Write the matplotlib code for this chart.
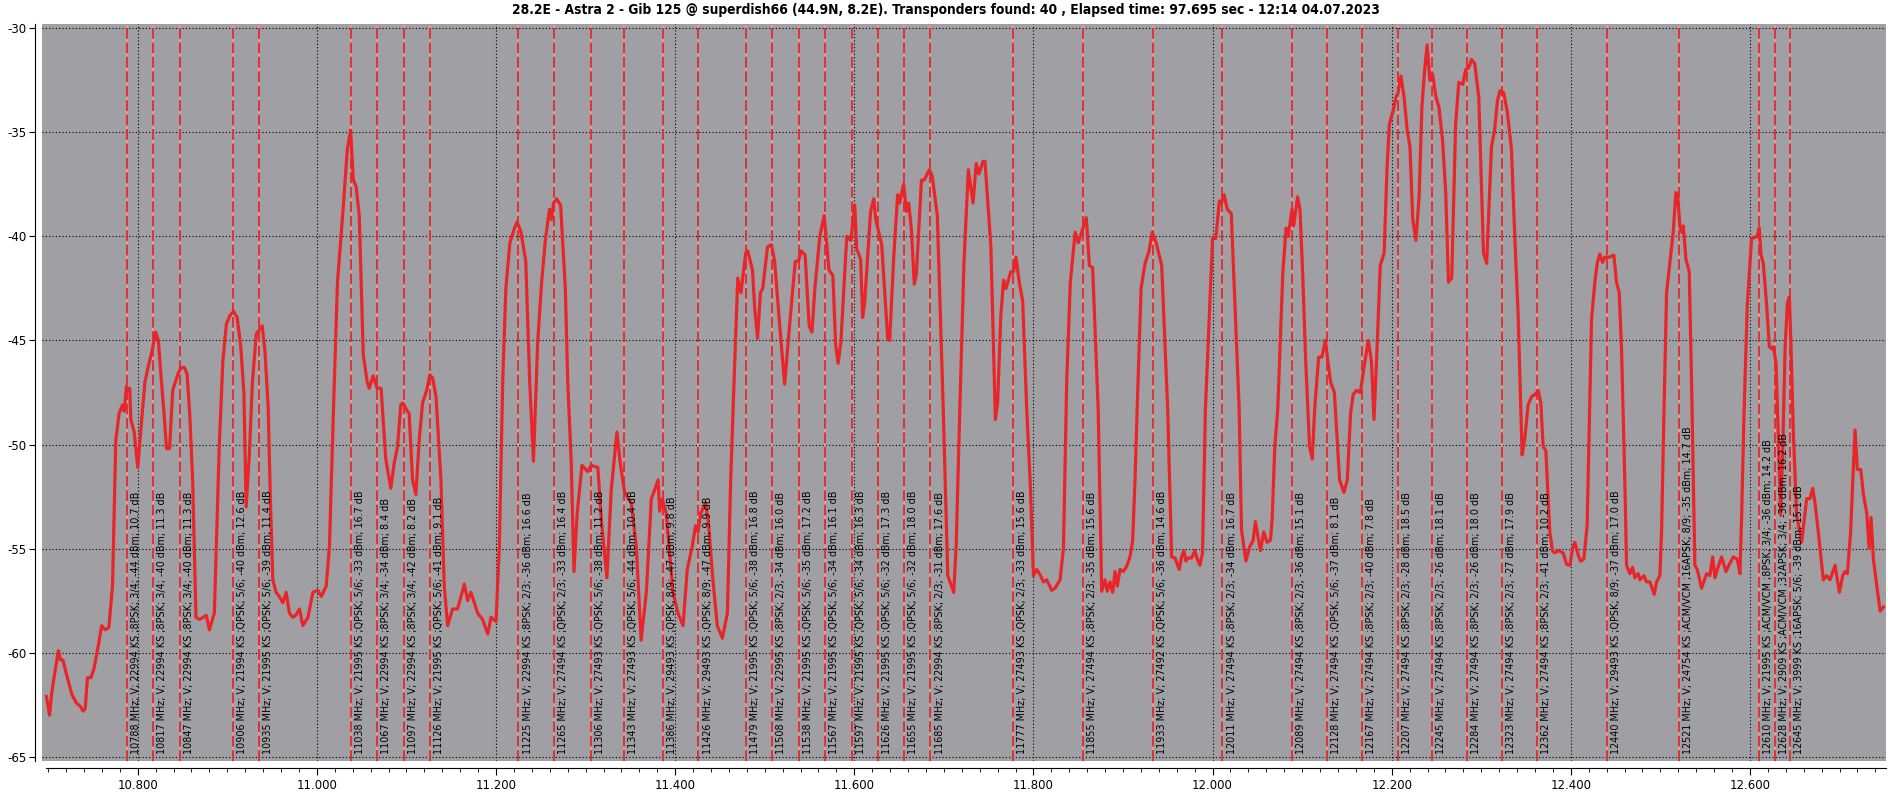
import matplotlib
matplotlib.use("Agg")
import matplotlib.pyplot as plt
from matplotlib import font_manager
from matplotlib.ticker import MultipleLocator, FuncFormatter

# spectrum trace, MHz / dBm
freq = [10698, 10701.5, 10704, 10706.5, 10711.4, 10713.9, 10716.4, 10721.4, 10726.4, 10731.3,
        10736.3, 10738.8, 10741.3, 10743.8, 10747.8, 10751.2, 10756.2, 10759.7, 10763.7, 10767.7,
        10771.8, 10775.5, 10779.2, 10783, 10785, 10787.3, 10789, 10791, 10792.3, 10796,
        10800, 10804.4, 10808, 10812, 10816, 10820, 10823, 10826.5, 10829, 10832.2,
        10835.5, 10839, 10842, 10845, 10848.5, 10852, 10855, 10858, 10861.3, 10865,
        10869, 10873, 10876.5, 10880, 10882, 10885.5, 10891, 10895, 10899, 10903,
        10907, 10911, 10915, 10918.5, 10921, 10924.7, 10927.9, 10932.3, 10938.9, 10942,
        10945.6, 10948, 10950.8, 10954.5, 10958, 10962, 10965.7, 10969.4, 10973, 10976.5,
        10980.6, 10984.3, 10990, 10995.5, 11001, 11005, 11010.4, 11014, 11018.6, 11023,
        11029.6, 11034, 11037.6, 11040.7, 11043.8, 11047.3, 11051.8, 11056.2, 11058.4, 11062.8,
        11067.3, 11071.7, 11076.9, 11082.5, 11086.3, 11090, 11093.7, 11096, 11101, 11103,
        11106.8, 11110.5, 11114.2, 11118, 11122.6, 11126.1, 11129.2, 11133, 11138.5, 11142.2,
        11146, 11151.5, 11157, 11160.9, 11164.6, 11168.3, 11172, 11179.5, 11185, 11190.7,
        11194.4, 11200, 11203.7, 11207.5, 11211, 11215.5, 11219.9, 11223.5, 11227.9, 11233.2,
        11237.6, 11241.8, 11246.5, 11250.9, 11255.3, 11259.7, 11262, 11264.2, 11267.7, 11272.1,
        11277.4, 11280, 11284, 11287, 11290.6, 11296, 11302.5, 11306.3, 11313.7, 11317.5,
        11323.8, 11328.6, 11335, 11338.7, 11343.6, 11351, 11356.6, 11362, 11367.8, 11373.4,
        11377, 11380.9, 11382.7, 11385.7, 11390, 11397.6, 11403.2, 11408.8, 11413.5, 11419,
        11422.8, 11425.5, 11428.5, 11434, 11437.5, 11441.5, 11447, 11452.7, 11458.3, 11462,
        11465.8, 11469.9, 11473.5, 11478.8, 11481, 11486.3, 11488.9, 11492, 11495.2, 11497.8,
        11503.1, 11507.5, 11511.1, 11516.4, 11522.2, 11527.5, 11534.1, 11537.6, 11540.7, 11545.1,
        11549.6, 11552.7, 11556.2, 11561.5, 11566.4, 11571.7, 11576.1, 11579.2, 11581.9, 11585,
        11591.6, 11596.1, 11600.5, 11602.7, 11607.1, 11609.3, 11611.5, 11618.2, 11621.7, 11624,
        11630.6, 11637.3, 11639.5, 11643.9, 11648.4, 11650.6, 11655, 11658.2, 11660.8, 11663.8,
        11667, 11669.3, 11675, 11678, 11683.8, 11687, 11692.7, 11699.3, 11704.4, 11711,
        11713.7, 11718, 11722.4, 11727.3, 11732.6, 11736.1, 11739.2, 11743.7, 11745.9, 11752.5,
        11757.5, 11760, 11763.6, 11766.7, 11769.4, 11774.7, 11777.8, 11780.5, 11784.5, 11788,
        11792.5, 11796.3, 11800, 11803.7, 11807.4, 11811.2, 11814.9, 11820.4, 11824.2, 11829.7,
        11833.5, 11837.2, 11841.2, 11846.6, 11850.1, 11854.6, 11859, 11862.5, 11866.1, 11872.3,
        11876.2, 11879.9, 11882.5, 11885.5, 11888.5, 11891.1, 11893.7, 11896.6, 11900.4, 11904.1,
        11907.8, 11910.8, 11913.4, 11915.8, 11920.2, 11924.6, 11929.1, 11932.6, 11937, 11943.2,
        11949.9, 11954.3, 11958, 11962.8, 11965.4, 11968, 11970.2, 11972.8, 11976.6, 11980.3,
        11982.9, 11985.9, 11988.8, 11992, 12000, 12003.6, 12007.6, 12009.8, 12012.9, 12016.4,
        12020.9, 12025.3, 12029.7, 12032.3, 12037.2, 12041.6, 12045.3, 12047.8, 12053.4, 12057.1,
        12060.9, 12064.6, 12066.5, 12069.5, 12072.8, 12078.5, 12082.1, 12084.3, 12088.7, 12090.5,
        12094.9, 12097.6, 12100.7, 12104, 12108.3, 12111.3, 12114, 12118.4, 12122, 12126,
        12128.7, 12131.8, 12136, 12141.8, 12146.7, 12150.4, 12154.1, 12157, 12160.6, 12165,
        12169.4, 12173.9, 12177.4, 12180.2, 12184, 12187.2, 12191.6, 12194.7, 12197.4, 12201.4,
        12204.9, 12207.1, 12210.3, 12213.8, 12217.3, 12220.4, 12223.5, 12227, 12230.6, 12233.7,
        12236.8, 12239.5, 12242.6, 12245.7, 12249.3, 12252.8, 12256.8, 12260.3, 12263.4, 12267,
        12271.4, 12274.9, 12279.4, 12282.5, 12286, 12289.2, 12292.7, 12297.2, 12302.5, 12306,
        12311.4, 12314.9, 12318, 12321, 12325, 12329, 12333.7, 12337.4, 12341.2, 12345.6,
        12348.6, 12352.3, 12356.1, 12360, 12363.5, 12366.5, 12369.1, 12372.1, 12376.5, 12379.5,
        12382.1, 12385.8, 12391.4, 12395.2, 12398.9, 12401.9, 12404.5, 12408.2, 12410.8, 12414.5,
        12418.2, 12423.1, 12426.8, 12429.4, 12432.4, 12435.4, 12438, 12442.8, 12448, 12451,
        12454, 12456.6, 12460.3, 12462.2, 12465.9, 12468.9, 12471.5, 12475.2, 12477.1, 12481.6,
        12484.5, 12488.3, 12493.1, 12495.7, 12499.4, 12501.3, 12503.9, 12506.9, 12510.6, 12514.3,
        12517.3, 12519.2, 12521.8, 12523.6, 12525.5, 12528.5, 12532.2, 12534.8, 12538.5, 12541.1,
        12546, 12551.6, 12555.3, 12558.3, 12560.9, 12563.5, 12568.3, 12573.2, 12577.6, 12581.4,
        12585.8, 12588.8, 12590.7, 12593.3, 12597, 12601.8, 12605.6, 12608.2, 12610.4, 12612.3,
        12614.9, 12618.6, 12621.6, 12624.2, 12626.1, 12629.1, 12631.7, 12634.3, 12636.5, 12639.2,
        12641.8, 12644, 12645.9, 12648.4, 12652.1, 12657.7, 12663.3, 12667, 12670, 12672.6,
        12676.3, 12681.9, 12685.6, 12689.4, 12695, 12699.8, 12703.5, 12706.1, 12708.7, 12712.4,
        12714.7, 12717.3, 12719.9, 12723.7, 12726.7, 12730.4, 12733, 12735.2, 12737.8, 12741.6,
        12745.3, 12749]
level = [-62.1, -63.0, -61.9, -61.2, -59.9, -60.35, -60.35, -61.2, -62.0, -62.4,
         -62.6, -62.8, -62.7, -61.2, -61.2, -60.75, -59.6, -58.7, -58.9, -58.8,
         -56.8, -49.8, -48.5, -48.1, -48.4, -47.2, -47.4, -47.3, -48.8, -49.4,
         -51.1, -48.8, -47.0, -46.2, -45.5, -44.6, -45.0, -47.0, -48.3, -50.2,
         -50.2, -47.4, -47.0, -46.6, -46.3, -46.3, -46.6, -48.5, -51.7, -58.3,
         -58.4, -58.3, -58.2, -58.9, -58.6, -58.1, -50.1, -46.0, -44.2, -43.8,
         -43.6, -43.9, -45.3, -47.5, -53.0, -50.4, -47.1, -44.7, -44.3, -45.5,
         -48.2, -52.5, -56.5, -57.1, -57.3, -57.6, -57.1, -58.1, -58.3, -58.2,
         -57.9, -58.7, -58.3, -57.1, -57.0, -57.3, -56.8, -54.9, -48.2, -42.2,
         -38.5, -35.8, -34.9, -37.3, -37.6, -39.0, -45.7, -47.0, -47.3, -46.7,
         -47.3, -47.3, -50.7, -52.1, -50.9, -50.1, -48.1, -48.0, -48.4, -48.5,
         -51.7, -52.4, -49.8, -48.0, -47.4, -46.65, -46.8, -47.7, -51.7, -56.8,
         -58.7, -57.9, -57.9, -57.3, -56.7, -57.5, -57.1, -58.1, -58.4, -59.1,
         -58.3, -58.5, -54.9, -46.9, -42.5, -40.3, -39.7, -39.3, -39.8, -41.2,
         -47.0, -50.8, -45.1, -42.2, -40.1, -38.7, -39.2, -38.4, -38.2, -38.5,
         -42.5, -46.9, -50.9, -56.1, -53.3, -51.0, -51.3, -51.0, -51.1, -53.6,
         -56.4, -52.2, -49.4, -50.9, -52.3, -52.8, -54.9, -59.4, -57.1, -52.6,
         -52.2, -51.7, -53.2, -52.6, -53.3, -57.1, -58.1, -58.7, -56.0, -54.9,
         -53.9, -54.2, -53.3, -52.8, -53.9, -56.2, -58.7, -59.3, -58.1, -51.7,
         -46.9, -42.0, -42.7, -40.8, -40.7, -41.6, -43.5, -44.9, -42.7, -42.5,
         -40.5, -40.4, -41.2, -44.1, -47.1, -44.4, -41.2, -41.2, -40.7, -40.9,
         -44.3, -44.6, -42.4, -40.0, -39.0, -41.6, -41.9, -45.2, -46.1, -45.1,
         -40.0, -40.2, -38.5, -40.6, -41.1, -43.9, -43.2, -38.8, -38.2, -39.2,
         -40.4, -44.9, -45.0, -41.1, -38.0, -38.4, -37.5, -38.8, -38.4, -39.7,
         -42.3, -41.8, -37.3, -37.3, -36.8, -37.1, -39.0, -48.3, -56.3, -57.1,
         -54.9, -48.0, -41.3, -36.8, -38.4, -36.5, -37.0, -36.4, -36.4, -40.5,
         -48.8, -48.0, -43.8, -42.1, -42.5, -41.7, -41.7, -41.0, -42.3, -43.1,
         -48.3, -51.7, -56.3, -56.0, -56.25, -56.6, -56.5, -57.0, -56.9, -56.5,
         -55.0, -46.9, -42.2, -39.8, -40.3, -39.7, -39.1, -41.4, -41.5, -48.3,
         -57.05, -56.5, -57.05, -56.6, -57.1, -56.1, -56.8, -56.0, -56.1, -55.85,
         -55.4, -54.6, -51.7, -48.3, -42.5, -41.3, -40.7, -39.8, -40.3, -41.4,
         -48.3, -55.4, -55.45, -56.0, -55.4, -55.1, -55.6, -55.45, -55.45, -55.1,
         -55.5, -55.8, -55.2, -48.3, -40.1, -40.1, -38.3, -38.4, -38.0, -38.7,
         -38.9, -43.6, -48.3, -54.1, -55.6, -54.9, -54.6, -53.7, -55.1, -54.2,
         -54.7, -54.6, -53.6, -50.1, -48.3, -41.7, -39.6, -40.0, -38.7, -39.5,
         -38.1, -38.7, -41.9, -46.0, -50.1, -50.7, -48.3, -45.8, -45.8, -45.0,
         -46.0, -47.0, -47.5, -51.7, -52.3, -51.7, -48.5, -47.6, -47.4, -47.5,
         -46.2, -45.0, -46.0, -48.8, -45.0, -41.4, -40.8, -36.8, -34.6, -34.0,
         -33.3, -33.1, -32.3, -33.3, -34.9, -35.7, -39.2, -40.2, -38.1, -33.8,
         -32.0, -30.8, -32.5, -32.2, -33.3, -33.8, -35.4, -37.9, -42.2, -42.0,
         -34.6, -32.6, -32.7, -32.0, -31.9, -31.5, -31.7, -33.3, -40.8, -41.3,
         -35.7, -34.9, -33.5, -33.0, -33.1, -34.0, -35.8, -40.0, -43.8, -50.5,
         -49.7, -48.1, -47.7, -47.6, -47.4, -48.0, -50.1, -50.3, -54.2, -55.1,
         -55.2, -55.1, -55.2, -55.75, -55.8, -55.0, -54.7, -55.3, -55.6, -55.5,
         -53.9, -44.0, -42.2, -41.3, -40.85, -41.25, -41.0, -41.0, -40.9, -42.2,
         -42.7, -45.4, -51.8, -55.8, -56.2, -55.9, -56.4, -56.2, -56.5, -56.3,
         -56.6, -56.6, -57.2, -56.6, -56.3, -54.2, -48.6, -42.7, -41.25, -39.8,
         -37.9, -38.0, -39.5, -39.8, -39.5, -41.1, -41.7, -47.0, -55.8, -56.0,
         -56.9, -56.2, -56.3, -55.4, -56.4, -56.0, -55.4, -56.1, -55.7, -55.4,
         -55.5, -56.2, -53.4, -48.6, -43.3, -40.1, -40.05, -40.0, -39.6, -40.9,
         -41.3, -43.3, -45.3, -45.4, -45.3, -46.1, -49.7, -53.4, -50.4, -45.4,
         -43.2, -42.9, -45.4, -49.4, -53.4, -54.7, -52.6, -52.6, -52.1, -52.8,
         -54.2, -56.5, -56.3, -56.5, -55.8, -57.1, -56.3, -56.1, -56.2, -54.2,
         -51.8, -49.3, -51.2, -51.2, -52.4, -53.3, -55.0, -53.5, -55.5, -56.8,
         -58.0, -57.8]

# transponders found
tp_freq = [10788, 10817, 10847, 10906, 10935, 11038, 11067, 11097, 11126, 11225,
           11265, 11306, 11343, 11386, 11426, 11479, 11508, 11538, 11567, 11597,
           11626, 11655, 11685, 11777, 11855, 11933, 12011, 12089, 12128, 12167,
           12207, 12245, 12284, 12323, 12362, 12440, 12521, 12610, 12628, 12645]
tp_sr = [22994, 22994, 22994, 21994, 21995, 21995, 22994, 22994, 21995, 22994,
         27494, 27493, 27493, 29493, 29493, 21995, 22995, 21995, 21995, 21995,
         21995, 21995, 22994, 27493, 27494, 27492, 27494, 27494, 27494, 27494,
         27494, 27494, 27494, 27494, 27494, 29493, 24754, 21995, 2909, 3999]
tp_mod = ["8PSK", "8PSK", "8PSK", "QPSK", "QPSK", "QPSK", "8PSK", "8PSK", "QPSK", "8PSK",
          "QPSK", "QPSK", "QPSK", "QPSK", "QPSK", "QPSK", "8PSK", "QPSK", "QPSK", "QPSK",
          "QPSK", "QPSK", "8PSK", "QPSK", "8PSK", "QPSK", "8PSK", "8PSK", "QPSK", "8PSK",
          "8PSK", "8PSK", "8PSK", "8PSK", "8PSK", "QPSK", "ACM/VCM ;16APSK", "ACM/VCM ;8PSK",
          "ACM/VCM ;32APSK", "16APSK"]
tp_fec = ["3/4", "3/4", "3/4", "5/6", "5/6", "5/6", "3/4", "3/4", "5/6", "2/3",
          "2/3", "5/6", "5/6", "8/9", "8/9", "5/6", "2/3", "5/6", "5/6", "5/6",
          "5/6", "5/6", "2/3", "2/3", "2/3", "5/6", "2/3", "2/3", "5/6", "2/3",
          "2/3", "2/3", "2/3", "2/3", "2/3", "8/9", "8/9", "3/4", "3/4", "5/6"]
tp_dbm = [-44, -40, -40, -40, -39, -33, -34, -42, -41, -36,
          -33, -38, -44, -47, -47, -38, -34, -35, -34, -34,
          -32, -32, -31, -33, -35, -36, -34, -36, -37, -40,
          -28, -26, -26, -27, -41, -37, -35, -36, -36, -39]
tp_cn = [10.7, 11.3, 11.3, 12.6, 11.4, 16.7, 8.4, 8.2, 9.1, 16.6,
         16.4, 11.2, 10.4, 9.8, 9.9, 16.8, 16.0, 17.2, 16.1, 16.3,
         17.3, 18.0, 17.6, 15.6, 15.6, 14.6, 16.7, 15.1, 8.1, 7.8,
         18.5, 18.1, 18.0, 17.9, 10.2, 17.0, 14.7, 14.2, 16.2, 15.1]

title = ("28.2E - Astra 2 - Gib 125 @ superdish66 (44.9N, 8.2E). Transponders found: 40 , "
         "Elapsed time: 97.695 sec - 12:14 04.07.2023")

fig = plt.figure(figsize=(18.88, 7.95), dpi=100)
ax = fig.add_axes([0.0222, 0.0428, 0.9768, 0.927])
ax.set_facecolor("#a0a0a4")

ax.set_xlim(10.693, 12.752)
ax.set_ylim(-65.2, -29.8)

ax.xaxis.set_major_locator(MultipleLocator(0.2))
ax.xaxis.set_minor_locator(MultipleLocator(0.02))
ax.xaxis.set_major_formatter(FuncFormatter(lambda v, p: f"{v:.3f}"))
ax.yaxis.set_major_locator(MultipleLocator(5))
ax.yaxis.set_major_formatter(FuncFormatter(lambda v, p: f"{v:.0f}"))
ax.grid(True, which="major", color="black", linestyle=(0, (1, 2)), linewidth=0.8)
ax.set_axisbelow(True)

for s in ["top", "right"]:
    ax.spines[s].set_visible(False)
ax.spines["bottom"].set_position(("outward", 5))
ax.spines["left"].set_position(("outward", 5))
ax.spines["bottom"].set_bounds(10.698, 12.752)
ax.tick_params(axis="x", which="major", length=5, labelsize=8.5, pad=3)
ax.tick_params(axis="x", which="minor", length=3)
ax.tick_params(axis="y", which="major", length=4, labelsize=8.5, pad=2)

for i, f in enumerate(tp_freq):
    x = f / 1000
    ax.axvline(x, color="#d8a8aa", linewidth=1.1, zorder=2)
    ax.axvline(x, color="#dc2a2a", linewidth=1.3, dashes=(6, 2), zorder=2)
    label = (f"{f} MHz; V; {tp_sr[i]} KS ;{tp_mod[i]}; {tp_fec[i]}; "
             f"{tp_dbm[i]} dBm; {tp_cn[i]:.1f} dB")
    ax.annotate(label, (x, -64.85), xytext=(3, 0), textcoords="offset points",
                rotation=90, ha="left", va="bottom", fontsize=6.9, color="black", zorder=4)

ax.plot([f / 1000 for f in freq], level, color="#e8262a", linewidth=2.3, zorder=3)

# narrow bold face for the title if one is installed
tfont = {"family": "Roboto", "weight": "bold"}
for fe in font_manager.fontManager.ttflist:
    if fe.stretch in ("condensed", "semi-condensed") and fe.weight in (700, "bold"):
        tfont = {"fname": fe.fname}
        break
t = fig.text(0.501, 0.987, title, ha="center", va="center", fontsize=14,
             fontproperties=font_manager.FontProperties(**tfont))
# fit title width to the reference (~878 px)
w = t.get_window_extent(fig.canvas.get_renderer()).width
t.set_fontsize(14 * 878 / w)

fig.savefig("out.png", dpi=100)
